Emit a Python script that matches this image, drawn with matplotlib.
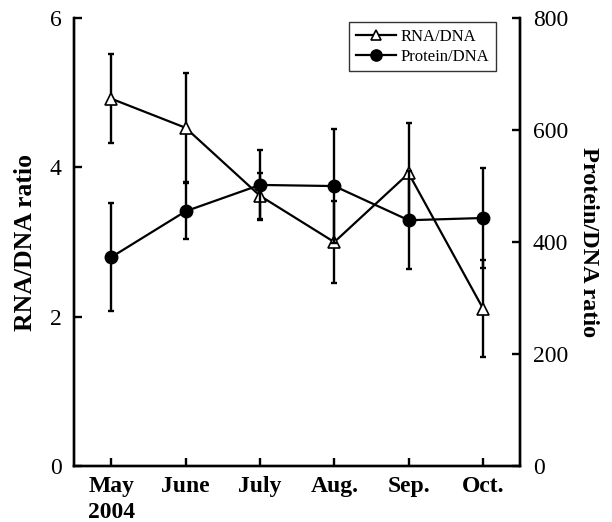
import matplotlib
matplotlib.use("Agg")
import matplotlib.pyplot as plt
import numpy as np

months = ["May\n2004", "June", "July", "Aug.", "Sep.", "Oct."]
rna = [4.92, 4.53, 3.62, 3.00, 3.92, 2.11]
rna_err = [0.60, 0.73, 0.31, 0.55, 0.68, 0.65]
protein = [373, 455, 502, 500, 439, 443]
protein_err = [96, 50, 62, 101, 87, 89]

plt.rcParams['font.family'] = ['Liberation Serif', 'DejaVu Serif']

fig = plt.figure(figsize=(6.12, 5.22), dpi=100)
ax = fig.add_axes([0.121, 0.107, 0.729, 0.8585])
ax2 = ax.twinx()

x = np.arange(len(months))
lr, = ax.plot(x, rna, color='black', lw=1.6, marker='^', ms=8.5, mfc='white',
              mec='black', mew=1.2, label='RNA/DNA', zorder=3)
ax.errorbar(x, rna, yerr=rna_err, fmt='none', ecolor='black', elinewidth=1.7,
            capsize=2.5, capthick=1.7, zorder=2)
lp, = ax2.plot(x, protein, color='black', lw=1.6, marker='o', ms=9, mfc='black',
               mec='black', label='Protein/DNA', zorder=3)
ax2.errorbar(x, protein, yerr=protein_err, fmt='none', ecolor='black', elinewidth=1.7,
             capsize=2.5, capthick=1.7, zorder=2)

ax.set_xlim(-0.5, 5.5)
ax.set_ylim(0, 6)
ax2.set_ylim(0, 800)
ax.set_yticks([0, 2, 4, 6])
ax2.set_yticks([0, 200, 400, 600, 800])
ax.set_xticks(x)
ax.set_xticklabels(months, fontweight='bold', fontsize=17, linespacing=1.3)

for a in (ax, ax2):
    a.spines['top'].set_visible(False)
    for s in a.spines.values():
        s.set_linewidth(1.7)
    a.tick_params(direction='in', length=6, width=1.7, labelsize=17)
ax.tick_params(axis='x', pad=7)
ax.tick_params(axis='y', pad=9)
ax2.tick_params(axis='y', pad=9)

ax.set_ylabel('RNA/DNA ratio', fontweight='bold', fontsize=18.5, labelpad=9)
ax2.set_ylabel('Protein/DNA ratio', fontweight='bold', fontsize=17.5, rotation=270,
               labelpad=22)

leg = ax2.legend(handles=[lr, lp], loc='upper right', bbox_to_anchor=(0.965, 1.01),
                 fontsize=12, frameon=True, fancybox=False, edgecolor='black',
                 handlelength=2.4, borderpad=0.4, labelspacing=0.25, handletextpad=0.3,
                 markerscale=0.9)
leg.get_frame().set_linewidth(1.0)

fig.savefig('out.png', dpi=100)
